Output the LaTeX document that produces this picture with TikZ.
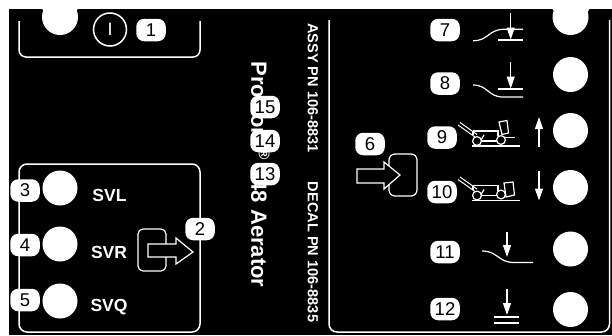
\documentclass[tikz,border=0pt]{standalone}
\usepackage{fontspec}
\setmainfont{Liberation Sans}
\usetikzlibrary{arrows.meta}
\tikzset{x=1pt,y=-1pt,
  badge/.style={fill=white,text=black,draw=none,rounded corners=8pt,minimum width=29.5pt,minimum height=22.5pt,inner sep=0pt,font=\fontsize{18.5}{18.5}\selectfont},
  hole/.style={fill=white,draw=none},
  thin line/.style={draw=white,line width=1.2pt},
  frame line/.style={draw=white,line width=1.5pt},
  svlabel/.style={text=white,inner sep=0pt,font=\fontsize{17.5}{18}\bfseries\selectfont},
  pn/.style={text=white,inner sep=0pt,rotate=-90,font=\fontsize{14.6}{15}\bfseries\selectfont},
  title/.style={text=white,inner sep=0pt,rotate=-90,font=\fontsize{22}{22}\bfseries\selectfont},
  tip/.style={-{Stealth[length=12pt,width=8pt,inset=0pt]},draw=white,line width=1.2pt}
}
\newcommand{\aeratorbody}{%
  \draw[thin line] (472,146) -- (520,146);
  \draw[thin line] (477,141) circle (4.4);
  \draw[thin line] (501,140) circle (4.4);
  \draw[thin line,line width=1pt] (458,125) -- (475,137);
  \draw[thin line,line width=1pt] (460,122.5) -- (477,134.5);
  \draw[thin line,line width=1.4pt] (473,131) -- (498,131) -- (498,136);
  \draw[thin line] (473,131) -- (473,135);
  \draw[thin line,line width=1.4pt] (481,141) -- (497,141);
  \draw[thin line] (484,135) -- (481,140);
}
\begin{document}
\begin{tikzpicture}
\useasboundingbox (0,0) rectangle (612,335);
\fill[white] (0,0) rectangle (612,335);
\fill[black] (8.5,8.5) rectangle (612,335);
% top notched holes
\path[hole] (42,8) -- (78,8) -- (76,13) -- (44,13) -- cycle;
\path[hole] (60,17) circle (18);
\path[hole] (552,8) -- (590,8) -- (587,13) -- (555,13) -- cycle;
\path[hole] (570.5,17) circle (18);
% frames
\draw[frame line,rounded corners=7pt] (19,21) -- (19,57) -- (200,57) -- (200,21);
\draw[frame line,rounded corners=8pt] (19,164) rectangle (200,332);
\draw[frame line,rounded corners=8pt] (329,20) -- (329,332) -- (609.5,332) -- (609.5,20);
% I switch
\node[circle,draw=white,line width=1.5pt,minimum size=33pt,inner sep=0pt,text=white,font=\fontsize{18}{18}\selectfont] (sw) at (110,29.5) {I};
% left holes
\path[hole] (60,188) circle (17.5);
\path[hole] (60,244) circle (17.5);
\path[hole] (60,301) circle (17.5);
\node[svlabel] (svl) at (109.5,195.5) {SVL};
\node[svlabel] (svr) at (109,252.5) {SVR};
\node[svlabel] (svq) at (109,307.5) {SVQ};
% left icon
\draw[frame line,line width=1.2pt,rounded corners=5pt] (138,229) rectangle (166,271);
\draw[white,fill=black,line width=1.2pt] (148,244) -- (176,244) -- (176,238) -- (193,252) -- (176,264) -- (176,257) -- (148,257) -- cycle;
% centre texts
\node[title] (ttl) at (260.5,174.5) {ProCore\textsuperscript{\textregistered} 648 Aerator};
\node[pn] (assy) at (313,88) {ASSY PN 106-8831};
\node[pn] (decal) at (313,252) {DECAL PN 106-8835};
% right icon
\draw[frame line,line width=1.2pt,rounded corners=6pt] (389,154) rectangle (417,196);
\draw[white,fill=black,line width=1.2pt] (357,169) -- (384,169) -- (384,162) -- (400,175) -- (384,189) -- (384,183) -- (357,183) -- cycle;
% right holes
\path[hole] (570.5,74.5) circle (17.5);
\path[hole] (570.5,130.5) circle (17.5);
\path[hole] (570.5,187.5) circle (17.5);
\path[hole] (570.5,249) circle (17.5);
\path[hole] (570.5,309.5) circle (17.5);
% symbols 7, 8
\draw[thin line] (473,40.7) .. controls (488,41) and (488,30) .. (503,29.3) -- (523,29.3);
\draw[thin line] (498,40) -- (523,40);
\draw[tip] (510.7,13) -- (510.7,39.5);
\draw[thin line] (473,85) .. controls (488,85) and (488,97) .. (503,97) -- (523,97);
\draw[thin line] (498,89) -- (523,89);
\draw[tip] (510.7,62) -- (510.7,88.5);
% aerators
\aeratorbody
\draw[thin line] (499,122) -- (507,120.5) -- (508.5,133) -- (502,134.5) -- cycle;
\draw[thin line,line width=.8pt] (505,137) -- (515,137);
\begin{scope}[yshift=-54.5pt]
\aeratorbody
\end{scope}
\draw[thin line] (504,183) -- (513,182) -- (514.5,195) -- (506,197) -- cycle;
\draw[tip] (539,147) -- (539,117);
\draw[tip] (539,171) -- (539,200.5);
% symbols 11, 12
\draw[thin line] (482,251) .. controls (498,251) and (498,262.5) .. (514,262.5) -- (533,262.5);
\draw[tip] (507,232) -- (507,257);
\draw[tip] (507,288.5) -- (507,315);
\draw[thin line] (494,317) -- (519,317);
\draw[thin line] (494,323) -- (519,323);
% badges
\node[badge] (b1) at (151,30) {1};
\node[badge] (b2) at (200,229) {2};
\node[badge] (b3) at (25,190.5) {3};
\node[badge] (b4) at (25,245) {4};
\node[badge] (b5) at (25,300) {5};
\node[badge] (b6) at (370,144) {6};
\node[badge] (b7) at (445,30) {7};
\node[badge] (b8) at (445,83.5) {8};
\node[badge] (b9) at (442,137.5) {9};
\node[badge] (b10) at (442,192) {10};
\node[badge] (b11) at (445,252) {11};
\node[badge] (b12) at (445,309) {12};
\node[badge] (b13) at (265,174) {13};
\node[badge] (b14) at (265,141) {14};
\node[badge] (b15) at (265,107) {15};
\end{tikzpicture}
\end{document}
